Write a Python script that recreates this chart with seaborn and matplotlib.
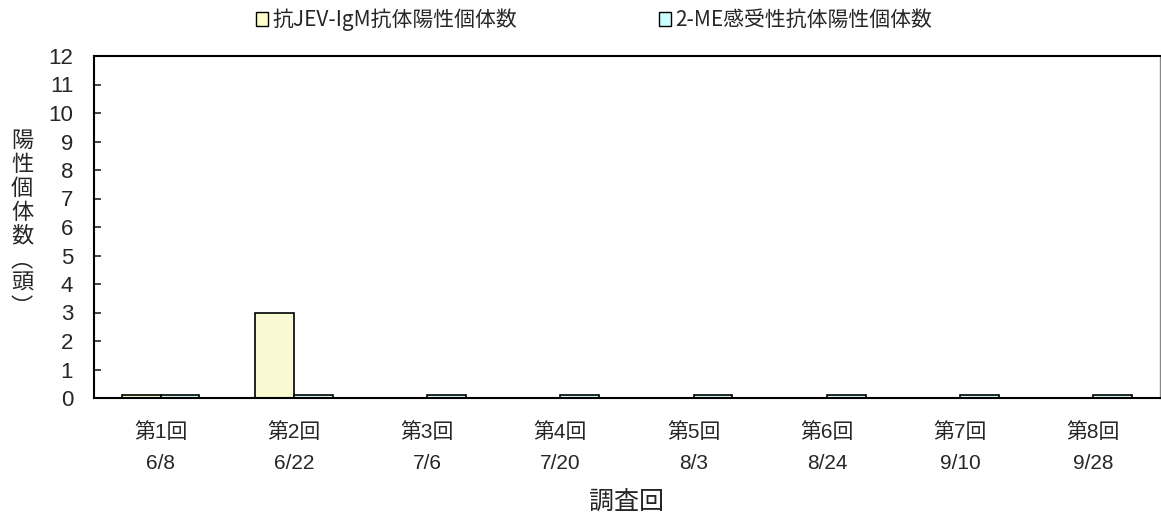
import matplotlib
matplotlib.use("Agg")
import matplotlib.pyplot as plt
import seaborn as sns
import pandas as pd
from matplotlib.patches import Patch

rounds = ["第1回\n6/8", "第2回\n6/22", "第3回\n7/6", "第4回\n7/20",
          "第5回\n8/3", "第6回\n8/24", "第7回\n9/10", "第8回\n9/28"]
series_names = ["抗JEV-IgM抗体陽性個体数", "2-ME感受性抗体陽性個体数"]
igm_values = [0.1, 3, 0, 0, 0, 0, 0, 0]
me_values = [0.1, 0.1, 0.1, 0.1, 0.1, 0.1, 0.1, 0.1]
colors = ["#FFFFCC", "#CCFFFF"]
yticks = list(range(0, 13))

sns.set_theme(style="white")
plt.rcParams["font.family"] = ["Liberation Sans", "Noto Sans CJK JP"]

df = pd.DataFrame({
    "round": rounds * 2,
    "series": [series_names[0]] * len(rounds) + [series_names[1]] * len(rounds),
    "value": igm_values + me_values,
})

fig = plt.figure(figsize=(11.61, 5.15), dpi=100)
ax = fig.add_axes([94 / 1161, 1 - 398 / 515, (1160 - 94) / 1161, (398 - 56) / 515])

sns.barplot(data=df, x="round", y="value", hue="series", order=rounds,
            hue_order=series_names, palette=colors, width=0.58,
            edgecolor="black", linewidth=1.2, ax=ax, legend=False)

ax.set_ylim(0, 12)
ax.set_xlim(-0.5, len(rounds) - 0.5)
ax.set_yticks(yticks)
ax.set_yticklabels([str(t) for t in yticks], fontsize=16)
ax.tick_params(axis="y", direction="in", length=5, width=1.2, pad=15, left=True)
ax.tick_params(axis="x", length=0, pad=17, labelsize=15)
for lbl in ax.get_xticklabels():
    lbl.set_linespacing(1.85)

ax.set_xlabel("調査回", fontsize=18, labelpad=11,
              fontfamily=["Noto Sans CJK JP", "DejaVu Sans"])
ax.set_ylabel("")
fig.text(22 / 1161, 1 - 224 / 515, "\n".join("陽性個体数︵頭︶"), fontsize=16,
         ha="center", va="center", linespacing=1.04,
         fontfamily=["Noto Sans CJK JP", "DejaVu Sans"])

for side in ["left", "bottom", "top"]:
    ax.spines[side].set_color("black")
    ax.spines[side].set_linewidth(1.5)
ax.spines["right"].set_color("#888888")
ax.spines["right"].set_linewidth(1.0)

handles = [Patch(facecolor=c, edgecolor="black", linewidth=1.0) for c in colors]
fig.legend(handles, series_names, loc="center", bbox_to_anchor=(594 / 1161, 1 - 20 / 515),
           ncol=2, frameon=False, handlelength=0.6, handleheight=0.6,
           handletextpad=0.2, columnspacing=6.8,
           prop={"family": ["Noto Sans CJK JP", "DejaVu Sans"], "size": 15})

fig.savefig("out.png", dpi=100)
